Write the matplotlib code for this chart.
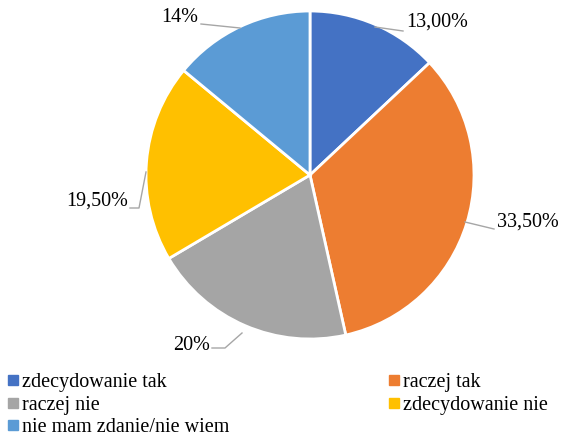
import matplotlib.pyplot as plt
from matplotlib.lines import Line2D

plt.rcParams['font.family'] = ['Liberation Serif', 'DejaVu Serif']

labels = ['zdecydowanie tak', 'raczej tak', 'raczej nie', 'zdecydowanie nie', 'nie mam zdanie/nie wiem']
values = [13.0, 33.5, 20.0, 19.5, 14.0]
pct_text = ['13,00%', '33,50%', '20%', '19,50%', '14%']
colors = ['#4472C4', '#ED7D31', '#A5A5A5', '#FFC000', '#5B9BD5']

W, H = 568, 436
cx, cy, R = 310, 175, 164

fig = plt.figure(figsize=(W / 100, H / 100), dpi=100)
ax = fig.add_axes([(cx - R) / W, (H - cy - R) / H, 2 * R / W, 2 * R / H])

wedges, _ = ax.pie(values, colors=colors, startangle=90, counterclock=False, radius=1,
                   wedgeprops=dict(edgecolor='white', linewidth=2))
ax.set_xlim(-1, 1)
ax.set_ylim(-1, 1)
ax.axis('off')


def d(px, py):
    return ((px - cx) / R, (cy - py) / R)


# label text position (pixels), leader line points (pixels)
label_pos = [(406, 22, 'left'), (497, 222, 'left'), (210, 345, 'right'),
             (128, 201, 'right'), (198, 18, 'right')]
leaders = [[(375, 27), (403, 31)],
           [(465, 222), (494, 229)],
           [(242, 333), (225, 348), (212, 348)],
           [(146, 172), (139, 208), (130, 208)],
           [(240, 28), (201, 24)]]

for (px, py, ha), txt, pts in zip(label_pos, pct_text, leaders):
    x, y = d(px, py)
    ax.text(x, y, txt, ha=ha, va='center', fontsize=14.5, clip_on=False)
    xs = [d(*p)[0] for p in pts]
    ys = [d(*p)[1] for p in pts]
    ax.plot(xs, ys, color='#A6A6A6', lw=1, clip_on=False)

handles = [Line2D([], [], marker='s', ls='', color=c, markersize=6.5) for c in colors]
order = [0, 2, 4, 1, 3]
fig.legend([handles[i] for i in order], [labels[i] for i in order], ncol=2,
           loc='upper left', bbox_to_anchor=(0.0, 1 - 365 / H), frameon=False,
           fontsize=14.5, handlelength=0.5, handletextpad=0.2, labelspacing=0.17,
           columnspacing=7.9, borderaxespad=0)

fig.savefig('out.png', dpi=100)
